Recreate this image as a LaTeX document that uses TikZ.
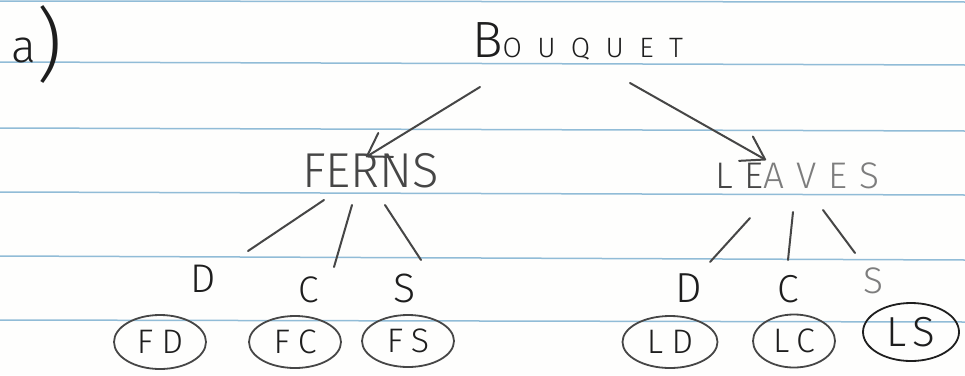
\documentclass[tikz,border=0pt]{standalone}
\usepackage{fontspec}
\usetikzlibrary{arrows.meta,shapes.geometric}
\newfontfamily\hand{Fira Sans Light}
\definecolor{rule}{RGB}{145,188,215}
\definecolor{ink}{RGB}{30,30,30}
\definecolor{inkgray}{RGB}{70,70,70}
\definecolor{pencil}{RGB}{125,125,125}
\definecolor{paper}{RGB}{254,254,253}
\newcommand{\fsz}[1]{\fontsize{#1}{#1}\selectfont}
\newcommand{\spc}[1]{\addfontfeature{LetterSpace=#1}}
\begin{document}
\begin{tikzpicture}[x=1pt,y=-1pt,
  ruled/.style={draw=rule, line width=1.5pt},
  word/.style={inner sep=0pt, outer sep=0pt, anchor=base west, text=ink, font=\hand},
  pen/.style={draw=inkgray, line width=2pt, line cap=round},
  penarrow/.style={pen, -{Straight Barb[length=22pt,width=28pt,round]}},
  leaf/.style={ellipse, draw=inkgray, line width=1.8pt, inner sep=0pt, text=ink, font=\hand\fsz{34}\spc{25}},
]
% paper and its ruling
\useasboundingbox (0,0) rectangle (965,375);
\fill[paper] (0,0) rectangle (965,375);
\draw[ruled] (0,1) -- (965,2);
\draw[ruled] (0,62) -- (965,65);
\draw[ruled] (0,128) -- (965,131);
\draw[ruled] (0,192) -- (965,195);
\draw[ruled] (0,256) -- (965,260);
\draw[ruled] (0,320) -- (965,322);

% part label
\node[word] (lbla) at (12,62) {\fsz{46}a};
\node[word] (lblp) at (36,72) {\fsz{80})};

% root
\node[word] (bq) at (472,57) {{\fsz{51}B}{\fsz{28}\spc{55}OUQUET}};

% second level
\node[word, text=inkgray] (ferns) at (302,187) {\fsz{49}FERNS};
\node[word, text=inkgray] (leaves) at (715,188) {\fsz{37}\spc{33}LE\textcolor{pencil}{AVES}};

% third level
\node[word] (fD) at (190,292) {\fsz{40}D};
\node[word] (fC) at (298,302) {\fsz{37}C};
\node[word] (fS) at (393,302) {\fsz{41}S};
\node[word] (lD) at (675,302) {\fsz{42}D};
\node[word] (lC) at (777,302) {\fsz{39}C};
\node[word, text=pencil] (lS) at (863,293) {\fsz{37}S};

% circled results
\node[leaf, minimum width=92pt, minimum height=54pt] (FD) at (160,342) {FD};
\node[leaf, minimum width=92pt, minimum height=52pt] (FC) at (295,342) {FC};
\node[leaf, minimum width=92pt, minimum height=52pt] (FS) at (408,341) {FS};
\node[leaf, minimum width=95pt, minimum height=52pt] (LD) at (670,342) {LD};
\node[leaf, minimum width=82pt, minimum height=53pt] (LC) at (794,341) {LC};
\node[leaf, draw=ink, minimum width=96pt, minimum height=58pt, font=\hand\fsz{42}\spc{15}] (LS) at (911,332) {LS};

% arrows from the root
\draw[penarrow] ([shift={(8,30)}]bq.base west) -- ([shift={(64,-30)}]ferns.base west);
\draw[penarrow] ([shift={(158,26)}]bq.base west) -- ([shift={(51,-28)}]leaves.base west);

% branches
\draw[pen] ([shift={(22,13)}]ferns.base west) -- ([shift={(58,-41)}]fD.base west);
\draw[pen] ([shift={(50,18)}]ferns.base west) -- ([shift={(36,-35)}]fC.base west);
\draw[pen] ([shift={(83,18)}]ferns.base west) -- ([shift={(28,-42)}]fS.base west);
\draw[pen] ([shift={(35,30)}]leaves.base west) -- ([shift={(35,-40)}]lD.base west);
\draw[pen] ([shift={(78,24)}]leaves.base west) -- ([shift={(11,-42)}]lC.base west);
\draw[pen] ([shift={(108,22)}]leaves.base west) -- ([shift={(-8,-40)}]lS.base west);
\end{tikzpicture}
\end{document}
